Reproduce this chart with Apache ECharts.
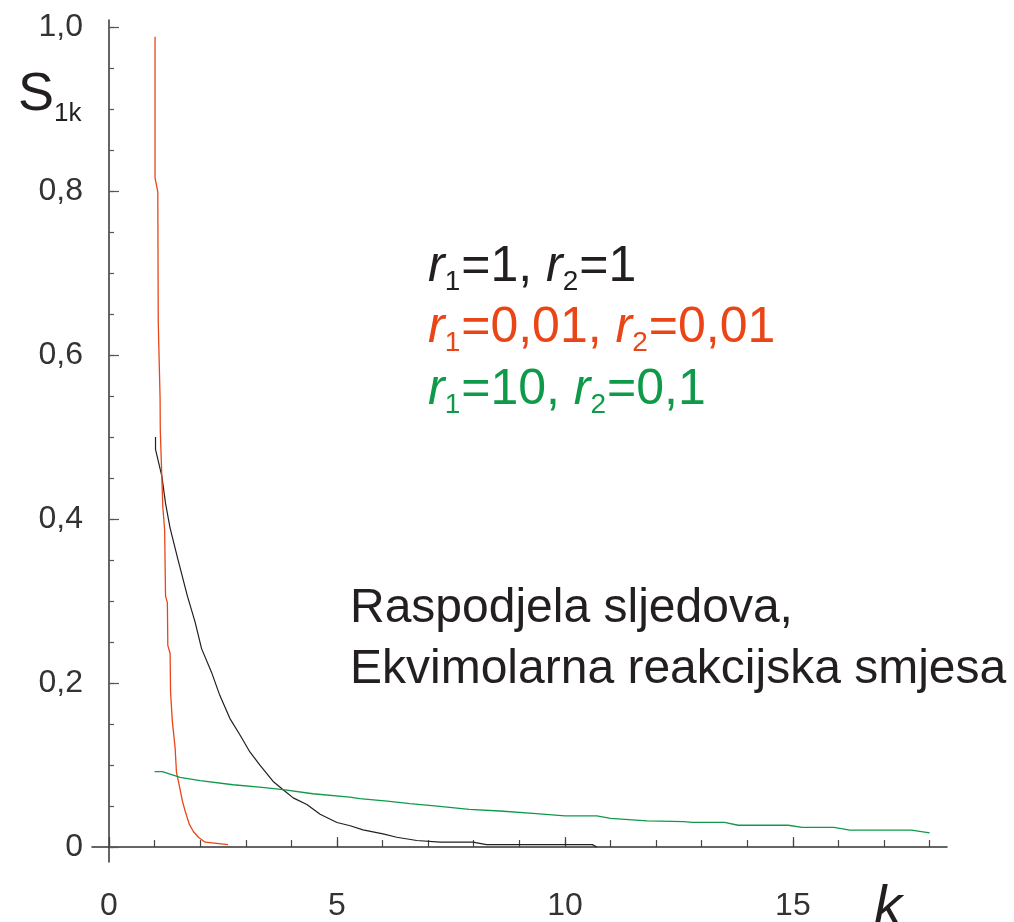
<!DOCTYPE html>
<html>
<head>
<meta charset="utf-8">
<script src="https://cdn.jsdelivr.net/npm/echarts@6/dist/echarts.min.js"></script>
<style>
  html, body { margin: 0; padding: 0; background: #fff; }
  #chart { width: 1014px; height: 922px; }
</style>
</head>
<body>
<div id="chart"></div>
<script>
// r1=1, r2=1
var blackK = [1.02, 1.02, 1.16, 1.24, 1.34, 1.51, 1.72, 1.89, 2.03, 2.25, 2.43, 2.65, 2.87, 3.09, 3.31, 3.6, 3.82, 4.04, 4.34, 4.63, 5.0, 5.29, 5.57, 6.01, 6.31, 6.75, 7.26, 7.98, 8.28, 10.6, 10.7];
var blackS = [0.5, 0.485, 0.452, 0.419, 0.389, 0.351, 0.306, 0.274, 0.242, 0.213, 0.185, 0.157, 0.137, 0.116, 0.1, 0.08, 0.07, 0.06, 0.052, 0.04, 0.03, 0.026, 0.021, 0.016, 0.012, 0.008, 0.006, 0.006, 0.003, 0.003, 0];
// r1=0,01, r2=0,01
var redK = [1.01, 1.01, 1.07, 1.08, 1.12, 1.125, 1.18, 1.22, 1.24, 1.28, 1.29, 1.34, 1.35, 1.39, 1.45, 1.48, 1.56, 1.61, 1.67, 1.76, 1.85, 1.96, 2.11, 2.61];
var redS = [0.988, 0.816, 0.799, 0.64, 0.548, 0.508, 0.415, 0.387, 0.306, 0.298, 0.246, 0.236, 0.189, 0.153, 0.121, 0.091, 0.07, 0.056, 0.044, 0.028, 0.019, 0.012, 0.006, 0.003];
// r1=10, r2=0,1
var greenK = [1.0, 1.17, 1.56, 2.0, 2.72, 3.3, 3.82, 4.47, 5.28, 5.5, 6.1, 6.6, 7.2, 7.9, 8.57, 9.3, 10.0, 10.7, 11.0, 11.8, 12.6, 12.8, 13.5, 13.8, 14.9, 15.2, 15.9, 16.25, 17.6, 18.0];
var greenS = [0.092, 0.092, 0.085, 0.081, 0.076, 0.073, 0.07, 0.065, 0.061, 0.059, 0.056, 0.053, 0.05, 0.046, 0.044, 0.041, 0.038, 0.038, 0.035, 0.032, 0.031, 0.03, 0.03, 0.0266, 0.0266, 0.0239, 0.0239, 0.0206, 0.0206, 0.0172];

var xMajor = [0, 5, 10, 15];
var xMinor = [0, 1, 2, 3, 4, 5, 6, 7, 8, 9, 10, 11, 12, 13, 14, 15, 16, 17, 18];
var yMajor = [0, 0.2, 0.4, 0.6, 0.8, 1.0];
var yMinor = [0, 0.05, 0.1, 0.15, 0.2, 0.25, 0.3, 0.35, 0.4, 0.45, 0.5, 0.55, 0.6, 0.65, 0.7, 0.75, 0.8, 0.85, 0.9, 0.95, 1.0];

function pairs(ks, ss) {
  var out = [];
  for (var i = 0; i < ks.length; i++) out.push([ks[i], ss[i]]);
  return out;
}

var FONT = '"Liberation Sans", Arial, sans-serif';
var BLACK = '#231f20', RED = '#ea4517', GREEN = '#0f9a4a';

// main text + lowered subscript
function richFor(color, size) {
  return {
    i: { fill: color, fontSize: size, lineHeight: size, fontStyle: 'italic', fontFamily: FONT, verticalAlign: 'top' },
    n: { fill: color, fontSize: size, lineHeight: size, fontFamily: FONT, verticalAlign: 'top' },
    s: { fill: color, fontSize: 28, lineHeight: 28, fontFamily: FONT, verticalAlign: 'top', padding: [26, 1, 0, 0] }
  };
}

var chart = echarts.init(document.getElementById('chart'));
chart.setOption({
  animation: false,
  backgroundColor: '#fff',
  grid: { left: 92, right: 67, top: 20, bottom: 54 },
  xAxis: [{
    type: 'value', min: -0.373, max: 18.38,
    axisLine: { onZero: true, lineStyle: { color: '#333', width: 1.5 } },
    axisTick: { inside: true, length: 10, customValues: xMajor, lineStyle: { color: '#444', width: 1.2 } },
    axisLabel: { customValues: xMajor, margin: 28, fontSize: 32, color: '#333', fontFamily: FONT },
    splitLine: { show: false }
  }, {
    type: 'value', min: -0.373, max: 18.38, position: 'bottom',
    axisLine: { show: false, onZero: true },
    axisTick: { inside: true, length: 7, customValues: xMinor, lineStyle: { color: '#444', width: 1.2 } },
    axisLabel: { show: false },
    splitLine: { show: false }
  }],
  yAxis: [{
    type: 'value', min: -0.0182, max: 1.0085,
    axisLine: { onZero: true, lineStyle: { color: '#333', width: 1.5 } },
    axisTick: { inside: true, length: 10, customValues: yMajor, lineStyle: { color: '#555', width: 1.2 } },
    axisLabel: {
      customValues: yMajor, margin: 9, fontSize: 32, color: '#333', fontFamily: FONT,
      padding: [0, 0, 14, 0],
      formatter: function (v) { return v === 0 ? '0' : v.toFixed(1).replace('.', ','); }
    },
    splitLine: { show: false }
  }, {
    type: 'value', min: -0.0182, max: 1.0085, position: 'left',
    axisLine: { show: false, onZero: true },
    axisTick: { inside: true, length: 5, customValues: yMinor, lineStyle: { color: '#555', width: 1.2 } },
    axisLabel: { show: false },
    splitLine: { show: false }
  }],
  series: [
    { name: 'r1=1, r2=1', type: 'line', data: pairs(blackK, blackS), showSymbol: false, lineStyle: { color: BLACK, width: 1.2 } },
    { name: 'r1=0,01, r2=0,01', type: 'line', data: pairs(redK, redS), showSymbol: false, lineStyle: { color: RED, width: 1.3 } },
    { name: 'r1=10, r2=0,1', type: 'line', data: pairs(greenK, greenS), showSymbol: false, lineStyle: { color: GREEN, width: 1.3 } }
  ],
  graphic: [
    { type: 'text', left: 18, top: 68, style: {
      text: '{a|S}{b|1k}',
      rich: {
        a: { fill: BLACK, fontSize: 54, lineHeight: 54, fontFamily: FONT, verticalAlign: 'top' },
        b: { fill: BLACK, fontSize: 26, lineHeight: 26, fontFamily: FONT, verticalAlign: 'top', padding: [33, 0, 0, 0] }
      }
    } },
    { type: 'text', left: 874, top: 880, style: { text: 'k', fill: BLACK, fontSize: 56, fontStyle: 'italic', fontFamily: FONT } },
    { type: 'text', left: 428, top: 242, style: { text: '{i|r}{s|1}{n|=1, }{i|r}{s|2}{n|=1}', rich: richFor(BLACK, 50) } },
    { type: 'text', left: 428, top: 303, style: { text: '{i|r}{s|1}{n|=0,01, }{i|r}{s|2}{n|=0,01}', rich: richFor(RED, 50) } },
    { type: 'text', left: 428, top: 365, style: { text: '{i|r}{s|1}{n|=10, }{i|r}{s|2}{n|=0,1}', rich: richFor(GREEN, 50) } },
    { type: 'text', left: 350, top: 578, style: {
      text: 'Raspodjela sljedova,\nEkvimolarna reakcijska smjesa',
      fill: BLACK, fontSize: 48, lineHeight: 61, fontFamily: FONT
    } }
  ]
});
</script>
</body>
</html>
